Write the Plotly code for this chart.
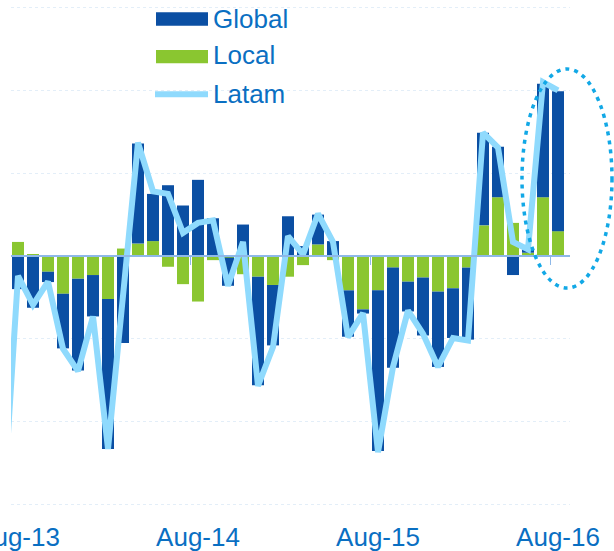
import plotly.graph_objects as go

# ---------------- data ----------------
months = ["Jul-13", "Aug-13", "Sep-13", "Oct-13", "Nov-13", "Dec-13",
          "Jan-14", "Feb-14", "Mar-14", "Apr-14", "May-14", "Jun-14", "Jul-14",
          "Aug-14", "Sep-14", "Oct-14", "Nov-14", "Dec-14",
          "Jan-15", "Feb-15", "Mar-15", "Apr-15", "May-15", "Jun-15", "Jul-15",
          "Aug-15", "Sep-15", "Oct-15", "Nov-15", "Dec-15",
          "Jan-16", "Feb-16", "Mar-16", "Apr-16", "May-16", "Jun-16", "Jul-16",
          "Aug-16"]

# bars start at Aug-13
local_vals = [0.17, 0.02, -0.19, -0.456, -0.274, -0.23, -0.52, 0.09, 0.15, 0.18,
              -0.13, -0.34, -0.55, -0.05, -0.02, -0.22, -0.25, -0.35, -0.25, -0.11,
              0.14, -0.05, -0.415, -0.645, -0.415, -0.14, -0.31, -0.26, -0.43, -0.39,
              -0.14, 0.37, 0.71, 0.40, 0.04, 0.71, 0.30]
global_vals = [-0.40, -0.625, -0.125, -0.66, -1.11, -0.50, -1.81, -1.05, 1.21, 0.57,
               0.855, 0.61, 0.92, 0.456, -0.34, 0.38, -1.31, -0.73, 0.48, 0.12,
               0.36, 0.18, -0.56, -0.05, -1.94, -1.21, -0.36, -0.70, -0.91, -0.60,
               -0.87, 1.12, 0.61, -0.23, 0.05, 1.37, 1.69]
# line starts at Jul-13
latam_vals = [-3.1, -0.24, -0.59, -0.31, -1.12, -1.39, -0.73, -2.33, -0.48, 1.37,
              0.78, 0.75, 0.28, 0.40, 0.43, -0.36, 0.17, -1.57, -1.10, 0.24,
              0.02, 0.51, 0.17, -0.98, -0.69, -2.37, -1.34, -0.66, -0.94, -1.34,
              -0.99, -1.02, 1.49, 1.31, 0.17, 0.08, 2.10, 2.00]

tick_labels = ["Aug-13", "Aug-14", "Aug-15", "Aug-16"]

# ---------------- styling ----------------
C_GLOBAL = "#0B4FA3"
C_LOCAL = "#8AC630"
C_LATAM = "#8FDAFD"
C_TEXT = "#0A6FC2"
C_ZERO = "#8EB8E8"
C_GRID = "#E3EEF8"
C_ELLIPSE = "#12A8E6"
FONT = "Liberation Sans, Arial, sans-serif"

x_line = list(range(-1, len(months) - 1))          # Jul-13 -> -1
x_bars = x_line[1:]                                  # Aug-13 -> 0
tick_pos = [x_line[months.index(m)] for m in tick_labels]
boundary_pos = [p - 0.5 for p in tick_pos]
xr = [-0.467, 36.8]

fig = go.Figure()
fig.add_trace(go.Bar(x=x_bars, y=local_vals, name="Local",
                     marker=dict(color=C_LOCAL, line=dict(width=0))))
fig.add_trace(go.Bar(x=x_bars, y=global_vals, name="Global",
                     marker=dict(color=C_GLOBAL, line=dict(width=0))))
fig.add_trace(go.Scatter(x=x_line, y=latam_vals, name="Latam", mode="lines",
                         xaxis="x2",
                         line=dict(color=C_LATAM, width=6, shape="linear")))

# plot area in pixels: x 11..570, y 6..506 (range slightly padded so edge gridlines show)
L, R, T, B = 11, 570, 6, 506
W, H = 614, 551


def px(x):
    return (x - L) / (R - L)


def py(y):
    return (B - y) / (B - T)


shapes = [
    # legend symbols
    dict(type="rect", xref="paper", yref="paper", x0=px(156), x1=px(208),
         y0=py(25.7), y1=py(12.3), fillcolor=C_GLOBAL, line=dict(width=0)),
    dict(type="rect", xref="paper", yref="paper", x0=px(156), x1=px(208),
         y0=py(63.3), y1=py(50), fillcolor=C_LOCAL, line=dict(width=0)),
    dict(type="line", xref="paper", yref="paper", x0=px(155), x1=px(208),
         y0=py(94.3), y1=py(94.3), line=dict(color=C_LATAM, width=6)),
    # highlight ellipse
    dict(type="circle", xref="paper", yref="paper", x0=px(522), x1=px(612),
         y0=py(288), y1=py(69), line=dict(color=C_ELLIPSE, width=3.5, dash="4px,5px")),
]

annotations = [
    dict(text=t, xref="paper", yref="paper", x=px(211), y=py(yc), xanchor="left",
         yanchor="middle", showarrow=False,
         font=dict(family=FONT, size=26, color=C_TEXT))
    for t, yc in [("Global", 18.5), ("Local", 55.5), ("Latam", 93.5)]
]

fig.update_layout(
    width=W, height=H,
    margin=dict(l=L, r=W - R, t=T, b=H - B, pad=0),
    paper_bgcolor="white", plot_bgcolor="white",
    barmode="relative", bargap=0.2,
    showlegend=False,
    shapes=shapes, annotations=annotations,
    xaxis=dict(range=xr, tickmode="array", tickvals=tick_pos, ticktext=tick_labels,
               showgrid=False, zeroline=False, showline=False, ticks="",
               ticklabelstandoff=13, ticklabeloverflow="allow",
               tickfont=dict(family=FONT, size=26, color=C_TEXT), automargin=False),
    xaxis2=dict(range=xr, overlaying="x", anchor="free", position=0.5, side="bottom",
                showgrid=False, zeroline=False, showline=True, linecolor=C_ZERO,
                linewidth=1.5, ticks="outside", ticklen=8, tickwidth=1.2,
                tickcolor=C_ZERO, tickmode="array", tickvals=boundary_pos,
                showticklabels=False),
    yaxis=dict(range=[-3.02, 3.02], tickmode="array", tickvals=[-3, -2, -1, 0, 1, 2, 3],
               showgrid=True, gridcolor=C_GRID,
               griddash="dot", gridwidth=1, zeroline=False, showline=False,
               showticklabels=False, ticks=""),
)

fig.write_html("out.html", post_script="document.body.style.margin='0';",
               config={"displayModeBar": False})
